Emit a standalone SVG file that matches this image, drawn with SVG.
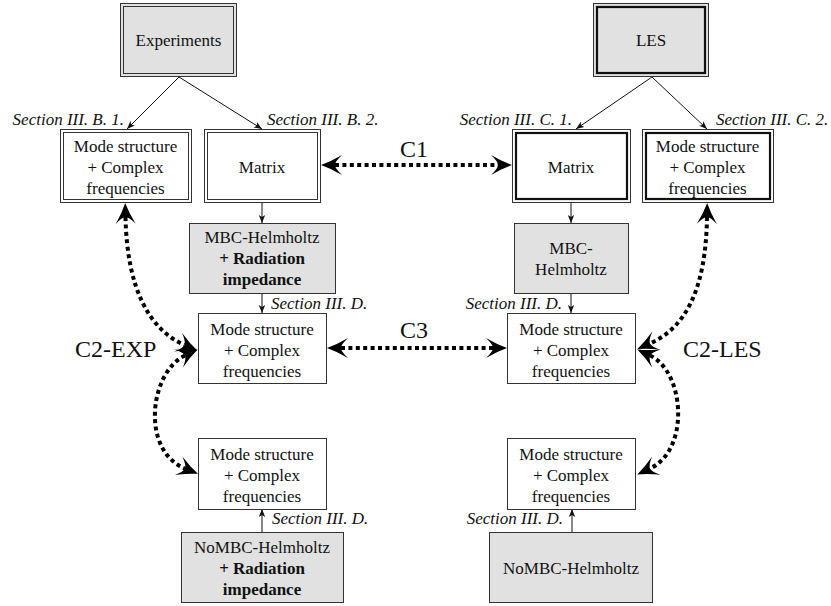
<svg xmlns="http://www.w3.org/2000/svg" width="831" height="606" viewBox="0 0 831 606">
<style>
.t{font-family:"Liberation Serif","Times New Roman",serif;font-size:17px;fill:#111;text-anchor:middle}
.b{font-weight:bold}
.s{font-family:"Liberation Serif","Times New Roman",serif;font-size:17px;font-style:italic;fill:#111}
.c{font-family:"Liberation Serif","Times New Roman",serif;font-size:24px;fill:#111}
.i{fill:none;stroke:#333;stroke-width:1}
.ik{fill:none;stroke:#111;stroke-width:2.2}
.w{fill:#fff;stroke:#333;stroke-width:1}
.g{fill:#e1e1e1;stroke:#333;stroke-width:1}
.a{fill:none;stroke:#111;stroke-width:1;marker-end:url(#sm)}
.d{fill:none;stroke:#000;stroke-width:4;stroke-dasharray:4 3.4;marker-start:url(#big);marker-end:url(#big)}
</style>
<defs>
<marker id="big" markerUnits="userSpaceOnUse" viewBox="0 -11 22 22" refX="7" refY="0" markerWidth="22" markerHeight="22" orient="auto-start-reverse">
<path d="M21,0 Q11,-3.5 0,-10 Q7,-3.5 7,0 Q7,3.5 0,10 Q11,3.5 21,0 Z" fill="#000"/>
</marker>
<marker id="sm" markerUnits="userSpaceOnUse" viewBox="0 -4 8 8" refX="8" refY="0" markerWidth="8" markerHeight="8" orient="auto">
<path d="M8,0 L0,-3.2 L2,0 L0,3.2 Z" fill="#111"/>
</marker>
</defs>
<rect width="831" height="606" fill="#fff"/>

<g id="connectors">
<path class="a" d="M179,77 L127,129"/>
<path class="a" d="M179,77 L262,129"/>
<path class="a" d="M652,77 L576,129"/>
<path class="a" d="M652,77 L707,129"/>
<path class="a" d="M262,202 L262,223"/>
<path class="a" d="M262,293 L262,313"/>
<path class="a" d="M571,202 L571,223"/>
<path class="a" d="M571,293 L571,313"/>
<path class="a" d="M262,532 L262,509"/>
<path class="a" d="M572,532 L572,509"/>
<path class="d" d="M335,165 L498,165"/>
<path class="d" d="M341,348 L493,348"/>
<path class="d" d="M125.5,217 C127,290 150,330 184.5,345"/>
<path class="d" d="M185,355.5 C150,372 140,450 185,468.5"/>
<path class="d" d="M707,217 C706,290 685,328 650,343.5"/>
<path class="d" d="M650,355.5 C685,372 690,450 650,468.5"/>
</g>

<g id="labels">
<text class="s" x="124" y="125" text-anchor="end">Section III. B. 1.</text>
<text class="s" x="267" y="125">Section III. B. 2.</text>
<text class="s" x="572" y="125" text-anchor="end">Section III. C. 1.</text>
<text class="s" x="716" y="125">Section III. C. 2.</text>
<text class="s" x="271" y="309">Section III. D.</text>
<text class="s" x="562" y="309" text-anchor="end">Section III. D.</text>
<text class="s" x="272" y="524">Section III. D.</text>
<text class="s" x="563" y="524" text-anchor="end">Section III. D.</text>
<text class="c" x="400" y="157">C1</text>
<text class="c" x="400" y="338">C3</text>
<text class="c" x="75" y="357">C2-EXP</text>
<text class="c" x="683" y="357">C2-LES</text>
</g>

<g id="experiments">
<rect class="g" x="120.5" y="3.5" width="116" height="73"/>
<rect class="i" x="123.5" y="6.5" width="110" height="67"/>
<text class="t" x="178.5" y="46">Experiments</text>
</g>
<g id="les">
<rect class="g" x="593.5" y="3.5" width="115" height="73"/>
<rect class="ik" x="597" y="7" width="108" height="66"/>
<text class="t" x="651" y="46">LES</text>
</g>
<g id="mode-exp">
<rect class="w" x="60.5" y="129.5" width="131" height="73"/>
<rect class="i" x="63.5" y="132.5" width="125" height="67"/>
<text class="t" x="125.5" y="152">Mode structure</text>
<text class="t" x="125.5" y="173">+ Complex</text>
<text class="t" x="125.5" y="194">frequencies</text>
</g>
<g id="matrix-exp">
<rect class="w" x="204.5" y="129.5" width="116" height="73"/>
<rect class="i" x="207.5" y="132.5" width="110" height="67"/>
<text class="t" x="262" y="173">Matrix</text>
</g>
<g id="matrix-les">
<rect class="w" x="512.5" y="129.5" width="118" height="73"/>
<rect class="ik" x="516" y="133" width="111" height="66"/>
<text class="t" x="571" y="173">Matrix</text>
</g>
<g id="mode-les">
<rect class="w" x="642.5" y="129.5" width="131" height="73"/>
<rect class="ik" x="646" y="133" width="124" height="66"/>
<text class="t" x="707.5" y="152">Mode structure</text>
<text class="t" x="707.5" y="173">+ Complex</text>
<text class="t" x="707.5" y="194">frequencies</text>
</g>
<g id="mbc-exp">
<rect class="g" x="189.5" y="223.5" width="146" height="70"/>
<text class="t" x="262" y="243">MBC-Helmholtz</text>
<text class="t b" x="262" y="264">+ Radiation</text>
<text class="t b" x="262" y="285">impedance</text>
</g>
<g id="mbc-les">
<rect class="g" x="514.5" y="223.5" width="114" height="70"/>
<text class="t" x="571" y="254">MBC-</text>
<text class="t" x="571" y="275">Helmholtz</text>
</g>
<g id="mode-mbc-exp">
<rect class="w" x="198.5" y="313.5" width="128" height="70"/>
<text class="t" x="262" y="335">Mode structure</text>
<text class="t" x="262" y="356">+ Complex</text>
<text class="t" x="262" y="377">frequencies</text>
</g>
<g id="mode-mbc-les">
<rect class="w" x="507.5" y="313.5" width="128" height="70"/>
<text class="t" x="571" y="335">Mode structure</text>
<text class="t" x="571" y="356">+ Complex</text>
<text class="t" x="571" y="377">frequencies</text>
</g>
<g id="mode-nombc-exp">
<rect class="w" x="198.5" y="438.5" width="128" height="71"/>
<text class="t" x="262" y="460">Mode structure</text>
<text class="t" x="262" y="481">+ Complex</text>
<text class="t" x="262" y="502">frequencies</text>
</g>
<g id="mode-nombc-les">
<rect class="w" x="507.5" y="438.5" width="128" height="71"/>
<text class="t" x="571" y="460">Mode structure</text>
<text class="t" x="571" y="481">+ Complex</text>
<text class="t" x="571" y="502">frequencies</text>
</g>
<g id="nombc-exp">
<rect class="g" x="181.5" y="532.5" width="162" height="70"/>
<text class="t" x="262" y="553">NoMBC-Helmholtz</text>
<text class="t b" x="262" y="574">+ Radiation</text>
<text class="t b" x="262" y="595">impedance</text>
</g>
<g id="nombc-les">
<rect class="g" x="489.5" y="532.5" width="163" height="70"/>
<text class="t" x="571" y="574">NoMBC-Helmholtz</text>
</g>
</svg>
